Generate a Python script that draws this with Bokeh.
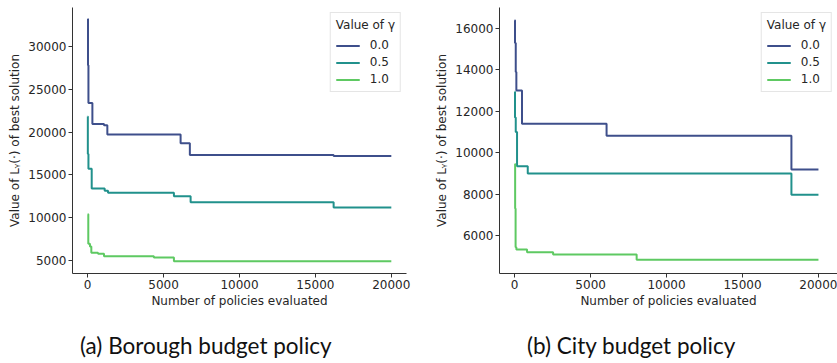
from bokeh.plotting import figure
from bokeh.models import FixedTicker, Div, Legend, LegendItem, BasicTickFormatter
from bokeh.layouts import row, column
from bokeh.embed import file_html
from bokeh.resources import INLINE

# ---------------- data ----------------
gammas = ["0.0", "0.5", "1.0"]
colors = ["#3e4f8b", "#21918c", "#5ec962"]

# (a) Borough budget policy
a_x_g0 = [0, 20, 50, 310, 1075, 1295, 6120, 6730, 16200, 20000]
a_y_g0 = [33200, 27800, 23400, 20950, 20780, 19700, 18700, 17320, 17210, 17210]
a_x_g5 = [0, 10, 50, 265, 1120, 1340, 5680, 6780, 16200, 20000]
a_y_g5 = [21800, 17450, 15700, 13400, 13150, 12900, 12500, 11800, 11180, 11180]
a_x_g1 = [0, 40, 150, 240, 680, 1075, 4360, 5680, 20000]
a_y_g1 = [10400, 6950, 6650, 5900, 5800, 5500, 5350, 4930, 4930]

# (b) City budget policy
b_x_g0 = [0, 20, 70, 110, 480, 6050, 18220, 20000]
b_y_g0 = [16400, 15300, 13900, 13000, 11400, 10820, 9190, 9190]
b_x_g5 = [0, 20, 70, 155, 860, 18220, 20000]
b_y_g5 = [12950, 11700, 11000, 9350, 9000, 7970, 7970]
b_x_g1 = [0, 30, 60, 110, 814, 2530, 8030, 20000]
b_y_g1 = [9450, 7300, 5430, 5320, 5190, 5080, 4830, 4830]

x_ticks = [0, 5000, 10000, 15000, 20000]
a_y_ticks = [5000, 10000, 15000, 20000, 25000, 30000]
b_y_ticks = [6000, 8000, 10000, 12000, 14000, 16000]

x_label = "Number of policies evaluated"
y_label = "Value of L\u1d67(\u00b7) of best solution"
legend_title = "Value of \u03b3"
captions = ["(a) Borough budget policy", "(b) City budget policy"]

FONT = "DejaVu Sans"
FS = "12px"
TXT = "#262626"


def make_panel(width, min_left, min_right, xr, yr, yticks, series):
    p = figure(width=width, height=318, x_range=xr, y_range=yr,
               output_backend="svg", toolbar_location=None,
               min_border_left=min_left, min_border_right=min_right,
               min_border_top=7, min_border_bottom=45)
    p.outline_line_color = None
    p.xgrid.visible = False
    p.ygrid.visible = False
    p.background_fill_color = "white"
    p.border_fill_color = "white"

    items = []
    for (xs, ys), c, g in zip(series, colors, gammas):
        r = p.step(xs, ys, mode="after", line_color=c, line_width=2)
        items.append(LegendItem(label=g, renderers=[r]))

    for ax in (p.xaxis[0], p.yaxis[0]):
        ax.axis_line_color = "#333333"
        ax.major_tick_line_color = "#333333"
        ax.major_tick_out = 4
        ax.major_tick_in = 0
        ax.minor_tick_line_color = None
        ax.major_label_text_font = FONT
        ax.major_label_text_font_size = FS
        ax.major_label_text_color = TXT
        ax.axis_label_text_font = FONT
        ax.axis_label_text_font_size = FS
        ax.axis_label_text_font_style = "normal"
        ax.axis_label_text_color = TXT
        ax.major_label_standoff = 3
        ax.formatter = BasicTickFormatter(use_scientific=False)
    p.xaxis.ticker = FixedTicker(ticks=x_ticks)
    p.yaxis.ticker = FixedTicker(ticks=yticks)
    p.xaxis.axis_label = x_label
    p.yaxis.axis_label = y_label
    p.xaxis.axis_label_standoff = 2
    p.xaxis.major_label_standoff = 2
    p.yaxis.axis_label_standoff = 3
    p.yaxis.major_label_standoff = 2

    leg = Legend(items=items, location="top_right", title=legend_title)
    leg.title_text_font = FONT
    leg.title_text_font_size = FS
    leg.title_text_font_style = "normal"
    leg.title_text_color = TXT
    leg.label_text_font = FONT
    leg.label_text_font_size = FS
    leg.label_text_color = TXT
    leg.glyph_width = 24
    leg.glyph_height = 13
    leg.label_height = 13
    leg.label_standoff = 10
    leg.spacing = 3
    leg.padding = 5
    leg.margin = 5
    leg.title_standoff = 6
    leg.border_line_color = "#cccccc"
    leg.background_fill_alpha = 0.85
    p.add_layout(leg)
    return p


def make_caption(text, width, left):
    html = ('<div style="margin:0;padding:0;padding-top:14px;padding-left:%dpx;'
            'font-family:Lato;font-size:22.5px;line-height:27px;color:#111111;'
            'white-space:nowrap">%s</div>' % (left, text))
    return Div(text=html, width=width, height=45, margin=0)


pa = make_panel(420, 72, 14, (-1000, 21000), (3488, 34535), a_y_ticks,
                [(a_x_g0, a_y_g0), (a_x_g5, a_y_g5), (a_x_g1, a_y_g1)])
pb = make_panel(417, 79, 0, (-1000, 21254), (4164, 17014), b_y_ticks,
                [(b_x_g0, b_y_g0), (b_x_g5, b_y_g5), (b_x_g1, b_y_g1)])
ca = make_caption(captions[0], 420, 80)
cb = make_caption(captions[1], 417, 107)

layout = row(column(pa, ca, spacing=0), column(pb, cb, spacing=0), spacing=0)
open("out.html", "w").write(file_html(layout, INLINE))
